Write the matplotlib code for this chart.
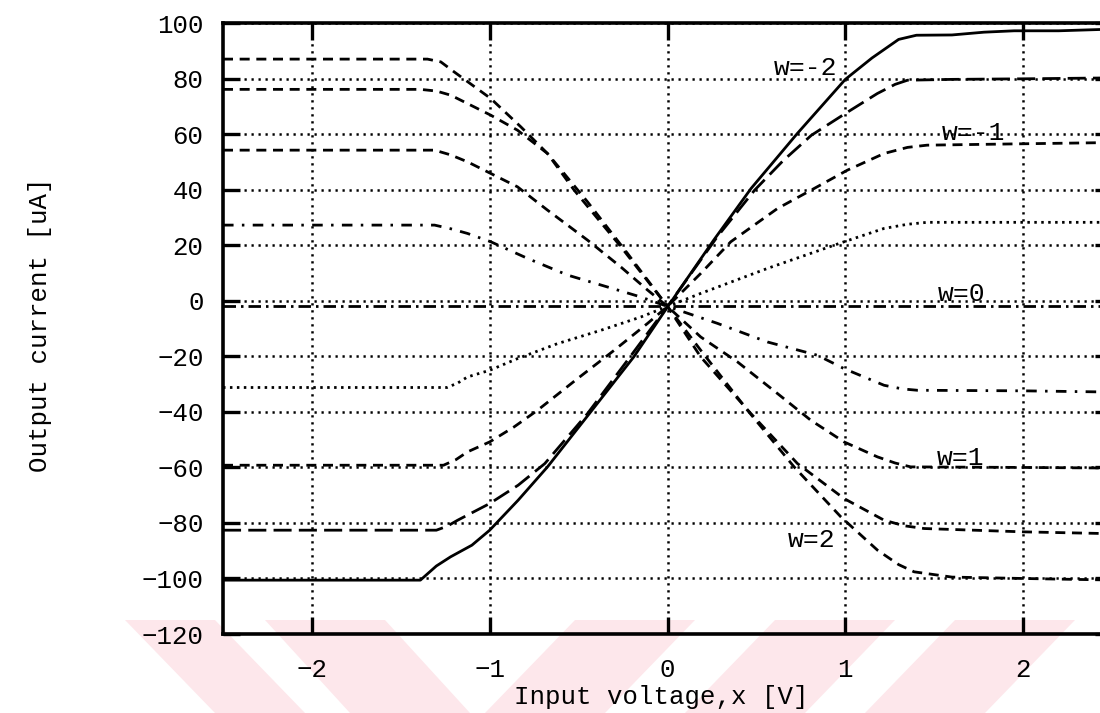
import matplotlib
matplotlib.use("Agg")
import matplotlib.pyplot as plt
from matplotlib.patches import Polygon

# -------------------- data --------------------
x_w_m2 = [-2.5, -1.39, -1.30, -1.22, -1.10, -1.0, -0.84, -0.675, -0.41, -0.19, 0.0,
          0.26, 0.47, 0.73, 1.0, 1.15, 1.30, 1.40, 1.60, 1.78, 1.95, 2.2, 2.45]
y_w_m2 = [-100.6, -100.6, -95.5, -92.2, -88.0, -82.6, -71.8, -59.8, -38.2, -20.2, -2.2,
          21.9, 40.5, 60.3, 79.8, 87.5, 94.2, 95.7, 95.8, 96.8, 97.3, 97.3, 97.8]

x_w_m15 = [-2.5, -1.30, -1.24, -1.18, -1.0, -0.84, -0.69, -0.45, -0.225, 0.0, 0.28,
           0.49, 0.65, 0.81, 1.0, 1.18, 1.28, 1.35, 1.6, 2.0, 2.45]
y_w_m15 = [-82.6, -82.6, -81.2, -79.0, -73.0, -66.4, -58.6, -40.6, -21.4, -2.0, 23.1,
           39.9, 50.5, 59.7, 67.5, 74.7, 78.0, 79.5, 79.8, 80.0, 80.3]

x_w_m1 = [-2.5, -1.26, -1.19, -1.125, -1.0, -0.863, -0.731, -0.506, -0.3, -0.112, 0.0,
          0.187, 0.356, 0.619, 0.825, 1.012, 1.218, 1.35, 1.46, 2.0, 2.45]
y_w_m1 = [-59.2, -59.2, -57.2, -54.4, -50.8, -45.4, -39.4, -28.0, -17.8, -8.1, -2.0,
          9.9, 21.3, 33.3, 40.5, 47.1, 53.1, 55.3, 56.1, 56.6, 57.0]

x_w_m05 = [-2.5, -1.24, -1.18, -1.125, -1.0, -0.844, -0.619, -0.375, -0.15, 0.0, 0.187,
           0.562, 0.993, 1.218, 1.35, 1.46, 2.0, 2.45]
y_w_m05 = [-31.2, -31.2, -29.6, -27.4, -25.0, -20.8, -15.4, -10.6, -5.8, -2.0, 2.7,
           11.7, 21.3, 26.1, 27.6, 28.3, 28.3, 28.3]

x_w_0 = [-2.5, 0.0, 2.45]
y_w_0 = [-1.9, -1.9, -1.9]

x_w_05 = [-2.5, -1.31, -1.22, -1.125, -0.994, -0.787, -0.562, -0.337, -0.15, 0.0, 0.281,
          0.562, 0.844, 0.993, 1.218, 1.32, 1.406, 2.0, 2.45]
y_w_05 = [27.3, 27.3, 26.0, 24.3, 21.3, 15.3, 9.3, 5.0, 1.4, -2.0, -8.1,
          -14.8, -19.6, -24.4, -30.4, -31.7, -32.2, -32.4, -32.8]

x_w_1 = [-2.5, -1.31, -1.22, -1.125, -0.994, -0.844, -0.675, -0.45, -0.262, -0.112, 0.0,
         0.187, 0.394, 0.619, 0.806, 0.993, 1.181, 1.28, 1.368, 2.0, 2.45]
y_w_1 = [54.3, 54.3, 52.6, 50.1, 45.9, 41.1, 32.7, 21.9, 12.2, 3.9, -2.0,
         -13.0, -22.0, -33.4, -43.0, -50.8, -56.2, -58.4, -59.8, -60.0, -60.2]

x_w_15 = [-2.5, -1.39, -1.30, -1.219, -0.994, -0.844, -0.675, -0.45, -0.225, 0.0, 0.187,
          0.469, 0.731, 0.993, 1.218, 1.33, 1.443, 2.0, 2.45]
y_w_15 = [76.2, 76.2, 75.6, 74.1, 66.9, 61.5, 53.1, 35.7, 17.1, -2.0, -20.2,
          -40.6, -58.6, -71.2, -79.0, -81.0, -82.0, -83.2, -83.8]

x_w_2 = [-2.5, -1.35, -1.275, -1.2, -0.994, -0.825, -0.675, -0.525, -0.262, 0.0, 0.187,
         0.45, 0.712, 0.975, 1.181, 1.30, 1.387, 1.6, 2.0, 2.45]
y_w_2 = [87.1, 87.1, 86.1, 82.5, 72.9, 62.7, 53.1, 39.9, 19.5, -2.0, -17.8,
         -39.4, -59.8, -77.8, -89.8, -95.0, -97.6, -99.5, -100.0, -100.5]

curve_labels = ["w=-2", "w=-1", "w=0", "w=1", "w=2"]
label_x = [0.775, 1.72, 1.655, 1.65, 0.81]
label_y = [83.8, 60.6, 2.4, -56.7, -86.2]

x_ticks = [-2, -1, 0, 1, 2]
y_ticks = [-120, -100, -80, -60, -40, -20, 0, 20, 40, 60, 80, 100]

# -------------------- figure --------------------
plt.rcParams['font.family'] = ['Liberation Mono', 'DejaVu Sans Mono']
fig = plt.figure(figsize=(11, 7.13), dpi=100)

# faint pink watermark stripes at the bottom (figure coords, behind everything)
pink = "#fde7eb"
H = 713.0
stripes = [
    [(125, 620), (215, 620), (305, 713), (215, 713)],
    [(265, 620), (385, 620), (470, 713), (350, 713)],
    [(575, 620), (695, 620), (605, 713), (485, 713)],
    [(775, 620), (895, 620), (805, 713), (685, 713)],
    [(955, 620), (1075, 620), (985, 713), (865, 713)],
]
for s in stripes:
    fig.patches.append(Polygon([(px / 1100.0, 1 - py / H) for px, py in s],
                               closed=True, transform=fig.transFigure,
                               facecolor=pink, edgecolor="none", zorder=-5))

ax = fig.add_axes([223 / 1100, (713 - 634) / 713, 889 / 1100, 610.7 / 713])
ax.set_zorder(2)
ax.patch.set_alpha(0)

lw = 2.0
dash = (0, (3.6, 2.4))
ax.plot(x_w_m2, y_w_m2, color="black", lw=lw, linestyle="-")
ax.plot(x_w_m15, y_w_m15, color="black", lw=lw, linestyle=(0, (6.5, 2.6)))
ax.plot(x_w_m1, y_w_m1, color="black", lw=lw, linestyle=dash)
ax.plot(x_w_m05, y_w_m05, color="black", lw=lw, linestyle=(0, (0.9, 1.6)))
ax.plot(x_w_0, y_w_0, color="black", lw=lw, linestyle=(0, (4.5, 1.8, 0.9, 1.8)))
ax.plot(x_w_05, y_w_05, color="black", lw=lw, linestyle=(0, (3.8, 3.0, 0.9, 3.0)))
ax.plot(x_w_1, y_w_1, color="black", lw=lw, linestyle=dash)
ax.plot(x_w_15, y_w_15, color="black", lw=lw, linestyle=dash)
ax.plot(x_w_2, y_w_2, color="black", lw=lw, linestyle=dash)

for t, lx, ly in zip(curve_labels, label_x, label_y):
    ax.text(lx, ly, t, ha="center", va="center", fontsize=19, color="black")

ax.set_xlim(-2.5, 2.5)
ax.set_ylim(-120, 100)
ax.set_xticks(x_ticks)
ax.set_yticks(y_ticks)
ax.set_xticklabels([str(v).replace("-", "\u2212") for v in x_ticks])
ax.set_yticklabels([str(v).replace("-", "\u2212") for v in y_ticks])

ax.grid(True, color="black", lw=1.8, linestyle=(0, (0.9, 1.9)))
ax.set_axisbelow(True)

for sp in ax.spines.values():
    sp.set_linewidth(2.6)
ax.tick_params(direction="in", length=12, width=2.4, top=True, right=True,
               labelsize=18.5)
ax.tick_params(axis="x", pad=17)
ax.tick_params(axis="y", pad=14)

ax.set_xlabel("Input voltage,x [V]", fontsize=18.5)
ax.set_ylabel("Output current [uA]", fontsize=18.5)
ax.xaxis.label.set_va("center")
ax.yaxis.label.set_va("center")
ax.xaxis.set_label_coords(0.4927, -0.103)
ax.yaxis.set_label_coords(-0.206, 0.506)

fig.savefig("out.png", dpi=100)
